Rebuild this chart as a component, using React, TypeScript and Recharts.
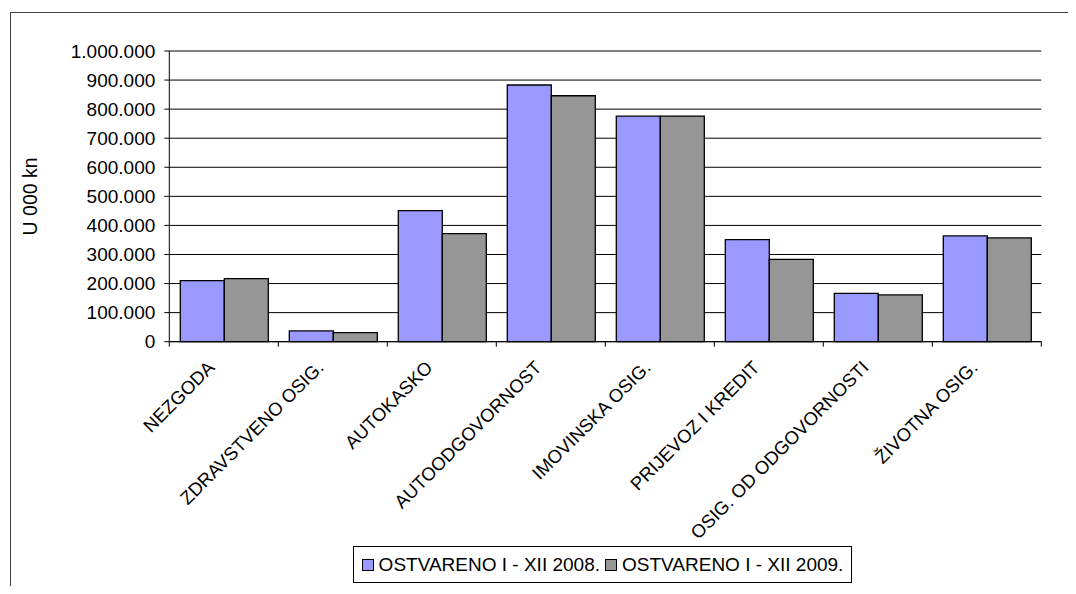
import React from 'react';
import { BarChart, Bar, XAxis, YAxis, CartesianGrid } from 'recharts';

const categories = [
  'NEZGODA',
  'ZDRAVSTVENO OSIG.',
  'AUTOKASKO',
  'AUTOODGOVORNOST',
  'IMOVINSKA OSIG.',
  'PRIJEVOZ I KREDIT',
  'OSIG. OD ODGOVORNOSTI',
  'ŽIVOTNA OSIG.',
];
const values2008 = [210000, 37000, 451000, 883000, 776000, 351000, 166000, 364000];
const values2009 = [217000, 31000, 372000, 846000, 776000, 283000, 161000, 357000];
const yTicks = [0, 100000, 200000, 300000, 400000, 500000, 600000, 700000, 800000, 900000, 1000000];
const seriesNames = ['OSTVARENO I - XII 2008.', 'OSTVARENO I - XII 2009.'];
const seriesColors = ['#9999FF', '#969696'];
const yAxisTitle = 'U 000 kn';

const data = categories.map((c, i) => ({ name: c, s2008: values2008[i], s2009: values2009[i] }));

const FONT = '"Liberation Sans", Arial, sans-serif';

const fmt = (v: number) => String(v).replace(/\B(?=(\d{3})+(?!\d))/g, '.');

const XTick = (props: any) => {
  const { x, y, payload, index, visibleTicksCount, width } = props;
  const count = visibleTicksCount || categories.length;
  const half = (Number(width) || 0) / count / 2;
  const tx = x - 8;
  const ty = y + 27;
  return (
    <g>
      {half > 0 && <line x1={x - half} x2={x - half} y1={y} y2={y + 5} stroke="#000" strokeWidth={1} />}
      {half > 0 && index === count - 1 && (
        <line x1={x + half} x2={x + half} y1={y} y2={y + 5} stroke="#000" strokeWidth={1} />
      )}
      <text
        x={tx}
        y={ty}
        transform={`rotate(-45, ${tx}, ${ty})`}
        textAnchor="end"
        fontSize={18.5}
        fontFamily={FONT}
        fill="#000"
      >
        {payload.value}
      </text>
    </g>
  );
};

const YTitle = (props: any) => {
  const vb = props.viewBox || { x: 0, y: 0, height: 0 };
  const cx = vb.x + 22;
  const cy = vb.y + vb.height / 2;
  return (
    <text
      x={cx}
      y={cy}
      transform={`rotate(-90, ${cx}, ${cy})`}
      textAnchor="middle"
      dominantBaseline="central"
      fontSize={19.5}
      fontFamily={FONT}
      fill="#000"
    >
      {yAxisTitle}
    </text>
  );
};

export default function App() {
  return (
    <div style={{ position: 'relative', width: 1068, height: 578, overflow: 'hidden', fontFamily: FONT }}>
      <div
        style={{
          position: 'absolute',
          left: 2,
          top: 4,
          width: 1200,
          height: 800,
          borderLeft: '1.5px solid #404040',
          borderTop: '1.5px solid #404040',
        }}
      />
      <div style={{ position: 'absolute', left: 0, top: 0 }}>
        <BarChart
          width={1068}
          height={578}
          data={data}
          margin={{ top: 43, right: 34.7, left: 0, bottom: 54.3 }}
          barCategoryGap={11}
          barGap={0}
        >
          <CartesianGrid horizontal vertical={false} stroke="#000" strokeWidth={1} />
          <XAxis
            dataKey="name"
            interval={0}
            height={190}
            axisLine={{ stroke: '#000' }}
            tickLine={false}
            tickSize={0}
            tickMargin={0}
            tick={<XTick />}
          />
          <YAxis
            width={161.3}
            domain={[0, 1000000]}
            ticks={yTicks}
            interval={0}
            tickFormatter={fmt}
            tickSize={5}
            tickMargin={9}
            tick={{ fontSize: 19, fill: '#000', fontFamily: FONT }}
            axisLine={{ stroke: '#000' }}
            tickLine={{ stroke: '#000' }}
            label={{ content: <YTitle /> }}
          />
          <YAxis
            yAxisId="right"
            orientation="right"
            width={0}
            domain={[0, 1]}
            tick={false}
            tickLine={false}
            axisLine={{ stroke: '#000' }}
          />
          <Bar dataKey="s2008" name={seriesNames[0]} fill={seriesColors[0]} stroke="#000" strokeWidth={1.3} isAnimationActive={false} />
          <Bar dataKey="s2009" name={seriesNames[1]} fill={seriesColors[1]} stroke="#000" strokeWidth={1.3} isAnimationActive={false} />
        </BarChart>
      </div>
      <div
        style={{
          position: 'absolute',
          left: 345,
          top: 538,
          width: 497,
          height: 35,
          border: '1px solid #000',
          background: '#fff',
          display: 'flex',
          alignItems: 'center',
          justifyContent: 'center',
          fontSize: 19,
          color: '#000',
          whiteSpace: 'nowrap',
        }}
      >
        {seriesNames.map((n, i) => (
          <div key={n} style={{ display: 'flex', alignItems: 'center', marginLeft: i === 0 ? 0 : 5 }}>
            <span
              style={{
                display: 'inline-block',
                width: 10,
                height: 10,
                background: seriesColors[i],
                border: '1px solid #000',
                marginRight: 5,
              }}
            />
            <span>{n}</span>
          </div>
        ))}
      </div>
    </div>
  );
}
